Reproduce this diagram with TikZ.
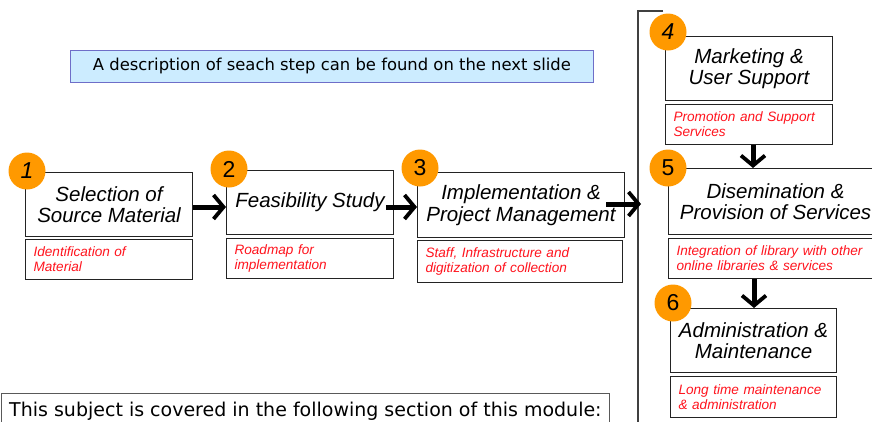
\documentclass[tikz,border=0pt]{standalone}
\usepackage{fontspec}
\setmainfont{Liberation Sans}
\newfontfamily\notefont{DejaVu Sans}
\usetikzlibrary{arrows.meta}
\definecolor{orng}{RGB}{255,153,0}
\definecolor{notefill}{RGB}{204,236,255}
\definecolor{noteline}{RGB}{110,110,200}
\definecolor{boxline}{RGB}{35,35,35}
\definecolor{redtext}{RGB}{255,20,30}
\begin{document}
\begin{tikzpicture}[x=1pt,y=-1pt,
  mainbox/.style={draw=boxline, line width=1.1pt, fill=white, anchor=north west,
    align=center, inner sep=0pt, font=\itshape\fontsize{20.5}{21.5}\selectfont},
  subbox/.style={draw=boxline, line width=1.1pt, fill=white, anchor=north west,
    align=left, inner xsep=8pt, inner ysep=0pt, text=redtext,
    font=\itshape\fontsize{13.6}{15}\selectfont},
  numcirc/.style={circle, fill=orng, minimum size=37pt, inner sep=0pt,
    font=\fontsize{23}{23}\selectfont},
  bigarrow/.style={line width=5pt, -{Straight Barb[length=10pt,width=24pt,line width=3.8pt]}},
  bracketline/.style={draw=black!75, line width=1.2pt},
  notebox/.style={draw=noteline, fill=notefill, line width=0.9pt, anchor=north west,
    inner sep=0pt, font=\notefont\fontsize{16.4}{19}\selectfont},
  coverbox/.style={draw=black!65, line width=0.8pt, fill=white, anchor=north west,
    inner sep=0pt, font=\notefont\fontsize{19}{22}\selectfont}
]
\useasboundingbox (0,0) rectangle (872,421);

% note at top
\node[notebox, minimum width=523pt, minimum height=32pt] (note) at (70,50)
  {A description of seach step can be found on the next slide};

% bracket on the right
\coordinate (bt) at (663,11);
\coordinate (bc) at (638,11);
\coordinate (bb) at (638,430);
\coordinate (bin) at (641,204);
\draw[bracketline] (bt) -- (bc) -- (bb);

% main boxes
\node[mainbox, minimum width=167pt, minimum height=64pt] (b1) at (25,172) {Selection of\\Source Material};
\node[mainbox, minimum width=167pt, minimum height=64pt] (b2) at (226,170) {Feasibility Study};
\node[mainbox, minimum width=207pt, minimum height=65pt] (b3) at (417,172) {Implementation \&\\Project Management};
\node[mainbox, minimum width=167pt, minimum height=64pt] (b4) at (665,36) {Marketing \&\\User Support};
\node[mainbox, minimum width=214pt, minimum height=66pt] (b5) at (668,168) {Disemination \&\\Provision of Services};
\node[mainbox, minimum width=166pt, minimum height=64pt] (b6) at (670,308) {Administration \&\\Maintenance};

% sub boxes
\node[subbox, text width=151pt, minimum height=40pt] (s1) at (25,239) {Identification of\\Material};
\node[subbox, text width=151pt, minimum height=40pt] (s2) at (226,238) {Roadmap for\\implementation};
\node[subbox, text width=189pt, minimum height=42pt] (s3) at (417,240) {Staff, Infrastructure and\\digitization of collection};
\node[subbox, text width=151pt, minimum height=40pt] (s4) at (665,104) {Promotion and Support\\Services};
\node[subbox, text width=198pt, minimum height=40pt] (s5) at (668,238) {Integration of library with other\\online libraries \& services};
\node[subbox, text width=150pt, minimum height=41pt] (s6) at (670,376) {Long time maintenance\\\& administration};

% number circles
\node[numcirc, font=\itshape\fontsize{23}{23}\selectfont] (c1) at (27,171) {1};
\node[numcirc] (c2) at (229,169) {2};
\node[numcirc] (c3) at (420,168) {3};
\node[numcirc, font=\itshape\fontsize{23}{23}\selectfont] (c4) at (668,32) {4};
\node[numcirc] (c5) at (668,168) {5};
\node[numcirc] (c6) at (673,303) {6};

% arrows
\draw[bigarrow] (b1.east |- 0,207) -- (b2.west |- 0,207);
\draw[bigarrow, shorten <=-8pt] (b2.east |- 0,207) -- (b3.west |- 0,207);
\draw[bigarrow, shorten <=-19pt] (b3.east |- 0,204) -- (bin);
\draw[bigarrow] (s4.south -| 753,0) -- (b5.north -| 753,0);
\draw[bigarrow] (s5.south -| 754,0) -- (b6.north -| 754,0);

% bottom box
\node[coverbox, minimum width=608pt, minimum height=36pt] (cover) at (1,393)
  {This subject is covered in the following section of this module:};
\end{tikzpicture}
\end{document}
